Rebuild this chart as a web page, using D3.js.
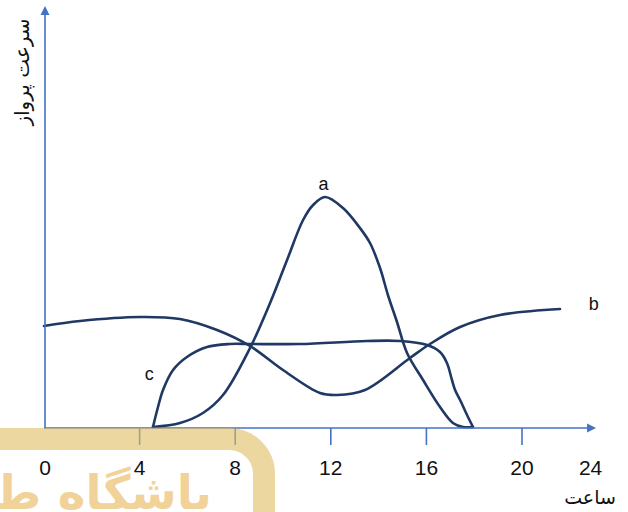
<!DOCTYPE html>
<html>
<head>
<meta charset="utf-8">
<script src="https://cdn.jsdelivr.net/npm/d3@7"></script>
<style>
  html, body { margin: 0; padding: 0; background: #fff; }
  svg { display: block; }
</style>
</head>
<body>
<svg id="chart" width="628" height="512"></svg>
<script>
// ---------- data ----------
const tickValues = [4, 8, 12, 16, 20];
const labelValues = [0, 4, 8, 12, 16, 20, 24];
const xTitle = "ساعت";
const yTitle = "سرعت پرواز";
const watermarkText = "باشگاه ط";

// curve a (hours, relative speed)
const aHours = [4.56, 5.69, 6.65, 7.49, 8.62, 9.46, 10.17, 10.84, 11.26, 11.76, 12.51, 13.22, 13.64, 14.06, 14.39, 14.77, 15.19, 15.86, 16.57, 17.11, 17.53, 17.95];
const aValues = [0.25, 1.25, 3.75, 8.25, 20.0, 31.25, 42, 52, 55.75, 57.75, 55, 50, 46.25, 40, 33.25, 26.5, 18.75, 12, 5.25, 1.25, 0.25, 0.25];
// curve b
const bHours = [0, 1.51, 4.02, 5.69, 7.24, 8.62, 10.0, 11.55, 12.26, 13.43, 15.31, 16.15, 17.41, 19.08, 21.59];
const bValues = [25.5, 26.75, 27.75, 27.25, 24.5, 20.5, 14.5, 8.75, 8.25, 9.5, 17.5, 21, 25.25, 28.25, 29.75];
// curve c
const cHours = [4.56, 4.77, 4.98, 5.4, 5.98, 6.82, 7.78, 8.62, 10.71, 13.51, 14.9, 16.03, 16.57, 16.86, 17.07, 17.2, 17.41, 17.74, 17.95];
const cValues = [0.25, 5.25, 9.5, 14.5, 17.75, 20.25, 21, 21, 21, 21.75, 21.75, 20.75, 19, 16.25, 12, 9.5, 7, 2.75, 0.25];

const seriesNames = ["a", "b", "c"];

// ---------- layout ----------
const svg = d3.select("#chart");
const x = d3.scaleLinear().domain([0, 24]).range([44, 44 + 24 * 23.9]);
const y = d3.scaleLinear().domain([0, 100]).range([428, 28]);
const xAxisEnd = 23.1;   // arrow tip (hours)
const yAxisEnd = 105.5;  // arrow tip (value)
const axisColor = "#4472C4";
const lineColor = "#1F3864";

// ---------- curves ----------
const line = d3.line()
  .x(d => x(d[0]))
  .y(d => y(d[1]))
  .curve(d3.curveCatmullRom.alpha(0.5));

const series = [
  d3.zip(aHours, aValues),
  d3.zip(bHours, bValues),
  d3.zip(cHours, cValues)
];

svg.append("g").selectAll("path")
  .data(series)
  .join("path")
  .attr("d", line)
  .attr("fill", "none")
  .attr("stroke", lineColor)
  .attr("stroke-width", 2.6)
  .attr("stroke-linejoin", "round")
  .attr("stroke-linecap", "round");

// ---------- axes ----------
const axes = svg.append("g");
axes.append("line")
  .attr("x1", x(0)).attr("x2", x(xAxisEnd) - 6)
  .attr("y1", y(0)).attr("y2", y(0))
  .attr("stroke", axisColor).attr("stroke-width", 1.6);
axes.append("path")
  .attr("d", `M${x(xAxisEnd)},${y(0)} L${x(xAxisEnd) - 9},${y(0) - 4.5} L${x(xAxisEnd) - 9},${y(0) + 4.5} Z`)
  .attr("fill", axisColor);

axes.append("line")
  .attr("x1", x(0) + 1).attr("x2", x(0) + 1)
  .attr("y1", y(0)).attr("y2", y(yAxisEnd) + 6)
  .attr("stroke", axisColor).attr("stroke-width", 1.6);
axes.append("path")
  .attr("d", `M${x(0) + 1},${y(yAxisEnd)} L${x(0) + 1 - 4.5},${y(yAxisEnd) + 9} L${x(0) + 1 + 4.5},${y(yAxisEnd) + 9} Z`)
  .attr("fill", axisColor);

axes.selectAll("line.tick")
  .data(tickValues)
  .join("line")
  .attr("class", "tick")
  .attr("x1", d => x(d)).attr("x2", d => x(d))
  .attr("y1", y(0)).attr("y2", y(0) + 17)
  .attr("stroke", axisColor).attr("stroke-width", 1.6);

// ---------- watermark ----------
const wm = svg.append("g");
wm.append("path")
  .attr("d", "M-20,439 L229,439 A35,35 0 0 1 264,474 L264,530")
  .attr("fill", "none")
  .attr("stroke", "rgb(225,188,98)")
  .attr("stroke-width", 22)
  .attr("opacity", 0.6);
wm.append("text")
  .attr("x", 212).attr("y", 509)
  .attr("direction", "rtl")
  .attr("text-anchor", "start")
  .attr("font-family", "DejaVu Sans")
  .attr("font-weight", "bold")
  .attr("font-size", 47)
  .attr("fill", "rgb(232,182,86)")
  .attr("opacity", 0.6)
  .text(watermarkText);

// ---------- tick labels ----------
svg.append("g").selectAll("text")
  .data(labelValues)
  .join("text")
  .attr("x", d => x(d) + (d === 24 ? -27 : 0) + (d === 0 ? 1 : 0))
  .attr("y", 475)
  .attr("text-anchor", "middle")
  .attr("font-family", "Liberation Sans, Arial, sans-serif")
  .attr("font-size", 21)
  .attr("fill", "#111")
  .text(d => d);

// axis titles
svg.append("text")
  .attr("x", 590).attr("y", 504)
  .attr("text-anchor", "middle")
  .attr("font-family", "DejaVu Sans")
  .attr("font-size", 19)
  .attr("fill", "#111")
  .text(xTitle);

svg.append("text")
  .attr("transform", "translate(29,72) rotate(-90)")
  .attr("text-anchor", "middle")
  .attr("font-family", "DejaVu Sans")
  .attr("font-size", 20)
  .attr("fill", "#111")
  .text(yTitle);

// series labels
const seriesLabelPos = [[11.7, 59.5], [23.0, 29.5], [4.4, 12.0]];
svg.append("g").selectAll("text")
  .data(seriesNames)
  .join("text")
  .attr("x", (d, i) => x(seriesLabelPos[i][0]))
  .attr("y", (d, i) => y(seriesLabelPos[i][1]))
  .attr("text-anchor", "middle")
  .attr("font-family", "Liberation Sans, Arial, sans-serif")
  .attr("font-size", 18)
  .attr("fill", "#111")
  .text(d => d);
</script>
</body>
</html>
